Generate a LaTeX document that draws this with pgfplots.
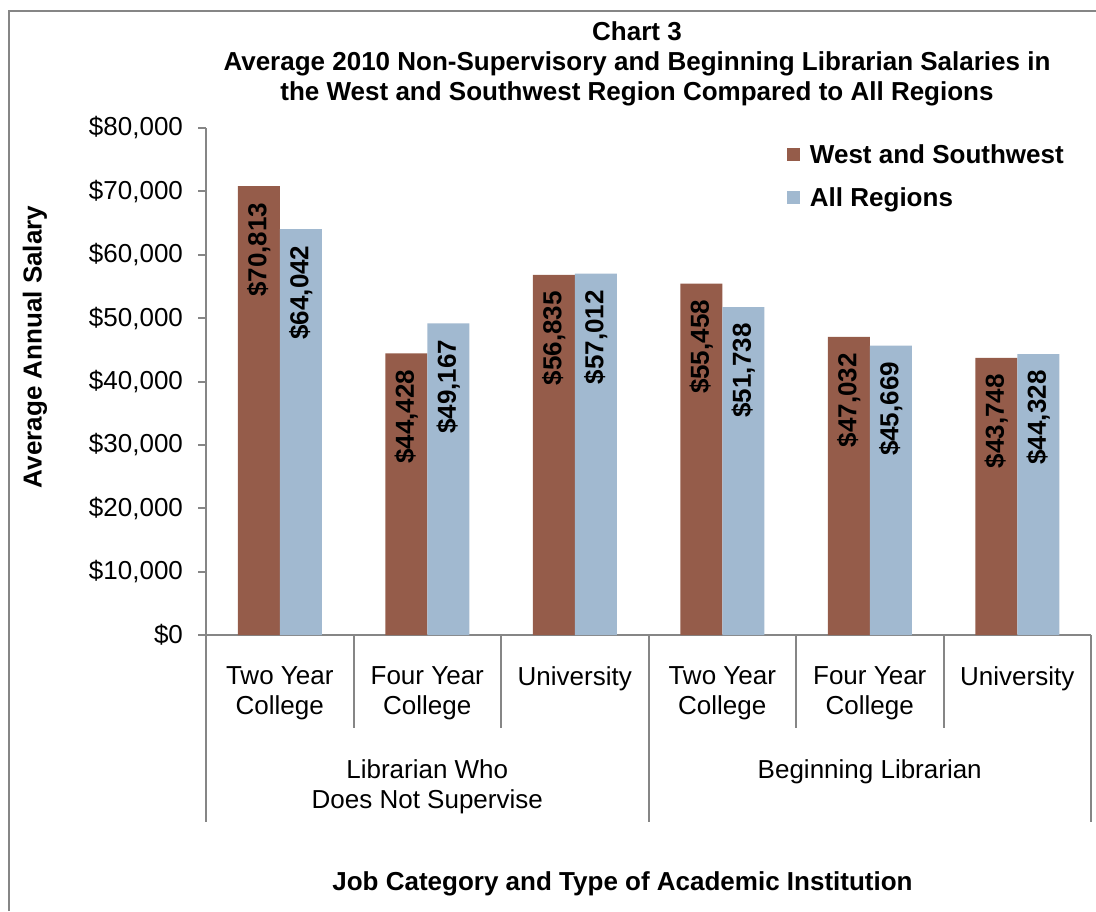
\documentclass[border=0pt]{standalone}
\usepackage{pgfplots}
\pgfplotsset{compat=1.18}
\usepackage{fontspec}
\setmainfont{Liberation Sans}
\definecolor{westc}{RGB}{149,92,74}
\definecolor{allc}{RGB}{161,185,208}
\definecolor{axgray}{RGB}{134,134,134}
\newcommand{\fs}{\fontsize{13pt}{15pt}\selectfont}
\begin{document}
\begin{tikzpicture}
\path[use as bounding box] (0,0) rectangle (548pt,455.5pt);
\draw[axgray, line width=1pt] (4.5pt,0) -- (4.5pt,450pt) -- (548pt,450pt);
% titles
\node[anchor=base, font=\fs\bfseries] at (318.5pt,435pt) {Chart 3};
\node[anchor=base, font=\fs\bfseries] at (318.5pt,420pt) {Average 2010 Non-Supervisory and Beginning Librarian Salaries in};
\node[anchor=base, font=\fs\bfseries] at (318.5pt,405pt) {the West and Southwest Region Compared to All Regions};
\node[rotate=90, font=\fs\bfseries] at (17.5pt,282pt) {Average Annual Salary};
\node[anchor=base, font=\fs\bfseries] at (311.25pt,10.5pt) {Job Category and Type of Academic Institution};
\begin{axis}[
  at={(103pt,138pt)}, anchor=south west,
  scale only axis, width=442.5pt, height=253.5pt,
  xmin=-0.5, xmax=5.5, ymin=0, ymax=80000,
  axis lines*=left,
  axis line style={axgray, line width=1pt},
  clip=false,
  scaled y ticks=false,
  tick align=outside, major tick length=4pt,
  ytick={0,10000,20000,30000,40000,50000,60000,70000,80000},
  yticklabels={\$0,{\$10,000},{\$20,000},{\$30,000},{\$40,000},{\$50,000},{\$60,000},{\$70,000},{\$80,000}},
  ytick style={axgray, line width=1pt},
  yticklabel style={font=\fs, xshift=-4pt},
  xtick={0,1,2,3,4,5},
  xticklabels={{Two Year\\College},{Four Year\\College},{University},{Two Year\\College},{Four Year\\College},{University}},
  xtick style={draw=none},
  xticklabel style={align=center, font=\fs, anchor=north, yshift=-8.5pt},
  ybar=0pt, bar width=21pt,
  nodes near coords={\$\pgfmathprintnumber[fixed,precision=0,1000 sep={,},assume math mode=true]{\pgfplotspointmeta}},
  every node near coord/.append style={rotate=90, anchor=east, font=\fs\bfseries, inner xsep=8pt, text=black},
  legend image code/.code={\fill[#1] (0pt,-2.75pt) rectangle (6.5pt,3.75pt);},
  legend style={draw=none, fill=none, at={(0.656,0.976)}, anchor=north west, font=\fs\bfseries, inner sep=0pt, row sep=6.5pt, nodes={inner xsep=5pt}, /tikz/every even column/.append style={column sep=0pt}},
  legend cell align=left,
]
\addplot[fill=westc, draw=none] coordinates {(0,70813) (1,44428) (2,56835) (3,55458) (4,47032) (5,43748)};
\addplot[fill=allc, draw=none] coordinates {(0,64042) (1,49167) (2,57012) (3,51738) (4,45669) (5,44328)};
\legend{West and Southwest, All Regions}
\draw[axgray, line width=1pt] (axis cs:-0.5,0) -- ++(0pt,-93.5pt);
\draw[axgray, line width=1pt] (axis cs:0.5,0) -- ++(0pt,-46.5pt);
\draw[axgray, line width=1pt] (axis cs:1.5,0) -- ++(0pt,-46.5pt);
\draw[axgray, line width=1pt] (axis cs:2.5,0) -- ++(0pt,-93.5pt);
\draw[axgray, line width=1pt] (axis cs:3.5,0) -- ++(0pt,-46.5pt);
\draw[axgray, line width=1pt] (axis cs:4.5,0) -- ++(0pt,-46.5pt);
\draw[axgray, line width=1pt] (axis cs:5.5,0) -- ++(0pt,-93.5pt);
\node[anchor=base, font=\fs, yshift=-71.5pt] at (axis cs:1,0) {Librarian Who};
\node[anchor=base, font=\fs, yshift=-86.5pt] at (axis cs:1,0) {Does Not Supervise};
\node[anchor=base, font=\fs, yshift=-71.5pt] at (axis cs:4,0) {Beginning Librarian};
\end{axis}
\end{tikzpicture}
\end{document}
